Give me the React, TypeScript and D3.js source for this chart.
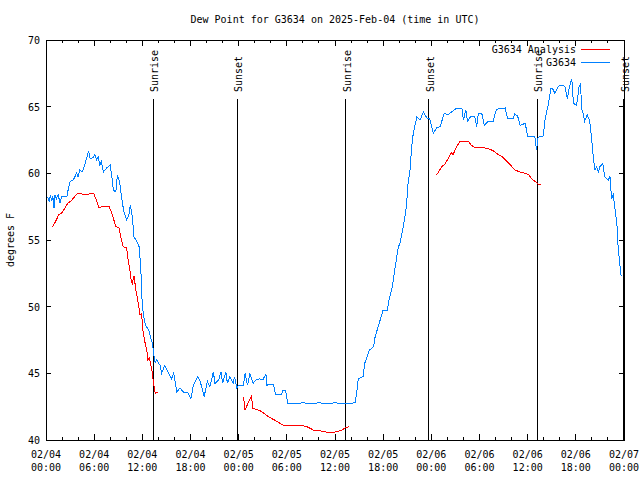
import * as d3 from "d3";

// hours after 2025-02-04 00:00 UTC, dew point in F
const observed: [number, number][] = [
  [0.2, 58.25], [0.4, 57.9], [0.55, 58.4], [0.7, 57.9], [0.85, 58.3], [1.0, 57.4],
  [1.1, 58.4], [1.3, 58.1], [1.5, 58.4], [1.75, 57.8], [1.95, 58.25], [2.3, 58.25],
  [2.6, 58.25], [2.8, 58.9], [3.0, 59.4], [3.4, 59.5], [3.8, 60.0], [4.0, 59.75],
  [4.2, 60.25], [4.5, 60.1], [4.75, 60.5], [5.0, 61.0], [5.3, 61.7], [5.5, 61.1],
  [5.9, 61.2], [6.1, 61.4], [6.3, 61.0], [6.5, 61.2], [6.7, 60.6], [6.9, 60.9],
  [7.15, 60.1], [7.55, 60.4], [8.0, 60.6], [8.2, 59.75], [8.4, 58.75], [8.7, 58.6],
  [8.9, 59.9], [9.2, 59.25], [9.4, 58.25], [9.7, 57.1], [10.05, 56.5], [10.3, 56.8],
  [10.5, 57.6], [10.75, 56.75], [10.96, 55.25], [11.3, 54.9], [11.6, 54.5], [11.8, 53.0],
  [12.0, 50.0], [12.2, 49.2], [12.4, 48.6], [12.8, 48.25], [13.05, 47.6], [13.25, 47.3],
  [13.4, 46.5], [13.6, 45.8], [13.8, 46.0], [14.0, 45.8], [14.2, 45.6], [14.4, 45.0],
  [14.8, 45.6], [15.2, 45.1], [15.65, 44.6], [15.9, 45.0], [16.3, 43.6], [16.7, 43.9],
  [17.1, 43.6], [17.6, 43.6], [18.06, 43.1], [18.35, 44.1], [18.9, 44.75], [19.2, 44.4],
  [19.5, 43.75], [19.7, 43.25], [20.1, 44.4], [20.4, 44.0], [20.85, 45.1], [21.05, 44.25],
  [21.5, 44.5], [21.8, 45.1], [22.0, 44.25], [22.4, 45.1], [22.6, 44.25], [22.9, 44.75],
  [23.3, 44.25], [23.5, 44.75], [23.75, 43.9], [24.0, 44.1], [24.6, 44.1], [24.8, 45.0],
  [25.1, 44.1], [25.4, 45.0], [25.8, 44.25], [26.15, 44.5], [26.6, 44.6], [27.0, 44.5],
  [27.4, 44.95], [27.5, 44.1], [27.9, 44.2], [28.3, 44.2], [28.6, 43.45], [29.35, 43.45],
  [29.55, 43.75], [29.85, 43.75], [30.1, 42.75], [31, 42.7], [32, 42.8], [33, 42.7],
  [34, 42.8], [35, 42.7], [36, 42.8], [37, 42.7], [38, 42.75], [38.5, 42.8],
  [38.7, 43.5], [38.9, 44.6], [39.5, 44.75], [39.7, 45.75], [40.3, 46.75], [40.8, 47.0],
  [41.0, 47.75], [41.5, 48.75], [42.0, 49.75], [42.5, 49.75], [42.8, 50.7], [43.15, 51.5],
  [43.5, 53.0], [43.9, 54.5], [44.1, 54.75], [44.5, 56.0], [44.9, 57.5], [45.1, 59.25],
  [45.35, 60.25], [45.55, 62.0], [45.75, 63.0], [46.2, 64.25], [46.6, 64.0], [47.0, 64.6],
  [47.5, 64.1], [47.8, 64.1], [48.25, 63.0], [48.65, 63.4], [49.1, 63.5], [49.6, 64.5],
  [50.1, 64.4], [50.5, 64.6], [51.2, 64.9], [51.8, 64.9], [52.0, 64.0], [52.3, 64.75],
  [52.5, 63.9], [52.9, 64.25], [53.4, 64.3], [53.65, 63.5], [53.85, 64.5], [54.3, 64.45],
  [54.6, 63.6], [55.1, 63.9], [55.7, 63.9], [56.1, 64.8], [57.2, 64.9], [57.5, 64.1],
  [58.2, 64.1], [58.4, 64.45], [58.75, 64.3], [59.05, 63.6], [59.7, 63.75], [60.0, 62.75],
  [60.9, 62.75], [61.1, 61.75], [61.3, 62.7], [61.95, 62.8], [62.15, 64.0], [62.6, 65.25],
  [62.9, 66.4], [63.1, 66.35], [63.4, 66.0], [63.8, 66.5], [64.0, 66.6], [64.45, 66.6],
  [64.65, 66.5], [64.95, 65.6], [65.2, 66.5], [65.5, 67.1], [65.7, 65.25], [66.1, 65.1],
  [66.4, 66.5], [66.6, 66.75], [66.7, 64.9], [66.9, 64.5], [67.1, 63.9], [67.4, 64.4],
  [67.7, 64.0], [67.95, 62.75], [68.2, 61.0], [68.4, 60.25], [68.6, 60.5], [68.8, 60.1],
  [69.0, 60.5], [69.35, 60.75], [69.6, 59.75], [70.05, 59.5], [70.25, 59.75], [70.45, 58.1],
  [70.65, 58.4], [71.0, 56.75], [71.15, 55.9], [71.3, 54.1], [71.4, 53.75], [71.6, 52.4],
  [71.75, 52.3],
];

const analysisFeb4: [number, number][] = [
  [0.8, 55.95], [1.2, 56.4], [1.6, 56.9], [2.0, 57.05], [2.75, 57.8], [3.1, 57.9],
  [3.9, 58.5], [4.3, 58.5], [4.7, 58.4], [5.2, 58.4], [5.5, 58.5], [5.95, 58.5],
  [6.2, 58.1], [6.6, 57.45], [7.2, 57.5], [7.85, 57.55], [8.26, 56.9], [8.7, 56.0],
  [9.1, 55.9], [9.3, 55.25], [9.6, 54.5], [10.05, 54.4], [10.2, 53.6], [10.45, 52.75],
  [10.6, 52.0], [10.75, 51.75], [10.96, 52.3], [11.2, 51.25], [11.5, 50.25], [11.7, 49.4],
  [11.9, 49.5], [12.1, 48.1], [12.3, 47.4], [12.55, 46.75], [12.7, 46.0], [12.85, 46.15],
  [13.0, 45.8], [13.25, 45.0], [13.4, 44.25], [13.6, 43.5], [13.9, 43.6],
];

const analysisFeb5: [number, number][] = [
  [24.6, 43.25], [24.8, 42.25], [25.2, 42.8], [25.6, 43.3], [25.75, 42.35], [26.2, 42.3],
  [26.65, 42.2], [27.05, 42.05], [27.7, 41.75], [28.3, 41.55], [28.9, 41.35], [29.55, 41.1],
  [30.0, 41.1], [31.85, 41.1], [32.5, 41.0], [33.3, 40.75], [34.1, 40.7], [35.2, 40.55],
  [35.8, 40.55], [36.2, 40.65], [36.8, 40.7], [37.25, 40.9], [37.8, 41.0],
];

const analysisFeb6: [number, number][] = [
  [48.55, 59.9], [48.8, 60.0], [49.3, 60.5], [49.7, 60.7], [50.1, 61.1], [50.45, 61.55],
  [50.7, 61.4], [51.15, 62.0], [51.6, 62.4], [52.6, 62.4], [53.0, 62.1], [53.4, 61.95],
  [54.7, 61.9], [55.1, 61.85], [55.7, 61.7], [56.1, 61.5], [56.8, 61.25], [57.4, 60.9],
  [57.9, 60.6], [58.4, 60.25], [59.05, 60.1], [59.7, 60.0], [60.1, 59.9], [60.5, 59.6],
  [60.9, 59.4], [61.3, 59.2], [61.65, 59.2],
];

const sunEvents: [string, string][] = [
  ["Sunrise", "2025-02-04T13:20Z"],
  ["Sunset", "2025-02-04T23:48Z"],
  ["Sunrise", "2025-02-05T13:22Z"],
  ["Sunset", "2025-02-05T23:42Z"],
  ["Sunrise", "2025-02-06T13:12Z"],
  ["Sunset", "2025-02-06T23:59Z"],
];

const yTicks = [40, 45, 50, 55, 60, 65, 70];

const start = Date.UTC(2025, 1, 4);
const end = Date.UTC(2025, 1, 7);

const W = 640;
const H = 480;
const left = 46;
const right = 624;
const top = 40;
const bottom = 440;
const font = "'DejaVu Sans Mono', monospace";

export default function App() {
  const x = d3.scaleUtc().domain([start, end]).range([left, right]);
  const y = d3.scaleLinear().domain([40, 70]).range([bottom, top]);
  const toDate = (h: number) => new Date(start + h * 3600e3);

  const line = d3
    .line<[number, number]>()
    .x((d) => x(toDate(d[0])))
    .y((d) => y(d[1]));

  const major = x.ticks(d3.utcHour.every(6)!);
  const minor = x.ticks(d3.utcHour.every(2)!);
  const fmtDay = d3.utcFormat("%m/%d");
  const fmtTime = d3.utcFormat("%H:%M");

  return (
    <svg
      width={W}
      height={H}
      style={{ position: "absolute", left: 0, top: 0, background: "#fff" }}
      fontFamily={font}
      fontSize={10}
    >
      <rect width={W} height={H} fill="#fff" />
      <text x={(left + right) / 2} y={23} textAnchor="middle">
        Dew Point for G3634 on 2025-Feb-04 (time in UTC)
      </text>

      {/* ticks */}
      <g stroke="#000" strokeWidth={1} shapeRendering="crispEdges">
        {minor.map((t, i) => (
          <g key={"m" + i}>
            <line x1={x(t)} x2={x(t)} y1={bottom} y2={bottom - 3} />
            <line x1={x(t)} x2={x(t)} y1={top} y2={top + 3} />
          </g>
        ))}
        {major.map((t, i) => (
          <g key={"M" + i}>
            <line x1={x(t)} x2={x(t)} y1={bottom} y2={bottom - 6} />
            <line x1={x(t)} x2={x(t)} y1={top} y2={top + 6} />
          </g>
        ))}
        {yTicks.map((v) => (
          <g key={"y" + v}>
            <line x1={left} x2={left + 5} y1={y(v)} y2={y(v)} />
            <line x1={right} x2={right - 5} y1={y(v)} y2={y(v)} />
          </g>
        ))}
      </g>

      {major.map((t, i) => (
        <g key={"l" + i}>
          <text x={x(t)} y={458} textAnchor="middle">
            {fmtDay(t)}
          </text>
          <text x={x(t)} y={471} textAnchor="middle">
            {fmtTime(t)}
          </text>
        </g>
      ))}
      {yTicks.map((v) => (
        <text key={"yl" + v} x={40} y={y(v) + 4} textAnchor="end">
          {v}
        </text>
      ))}
      <text transform={`translate(14,${(top + bottom) / 2}) rotate(-90)`} textAnchor="middle">
        degrees F
      </text>

      {/* sunrise / sunset markers */}
      {sunEvents.map(([label, t], i) => {
        const sx = x(new Date(t));
        return (
          <g key={"s" + i}>
            <line
              x1={sx}
              x2={sx}
              y1={99}
              y2={bottom}
              stroke="#000"
              strokeWidth={1}
              shapeRendering="crispEdges"
            />
            <text transform={`translate(${sx + 5},92) rotate(-90)`} textAnchor="start">
              {label}
            </text>
          </g>
        );
      })}

      <g fill="none" strokeWidth={1} shapeRendering="crispEdges">
        <path d={line(observed) ?? ""} stroke="#0080ff" />
        {[analysisFeb4, analysisFeb5, analysisFeb6].map((seg, i) => (
          <path key={"a" + i} d={line(seg) ?? ""} stroke="#ff0000" />
        ))}
      </g>

      {/* legend */}
      <text x={576} y={53} textAnchor="end">
        G3634 Analysis
      </text>
      <line x1={581} x2={610} y1={49} y2={49} stroke="#ff0000" shapeRendering="crispEdges" />
      <text x={576} y={66} textAnchor="end">
        G3634
      </text>
      <line x1={581} x2={610} y1={62} y2={62} stroke="#0080ff" shapeRendering="crispEdges" />

      <rect
        x={left}
        y={top}
        width={right - left}
        height={bottom - top}
        fill="none"
        stroke="#000"
        strokeWidth={1}
        shapeRendering="crispEdges"
      />
    </svg>
  );
}
